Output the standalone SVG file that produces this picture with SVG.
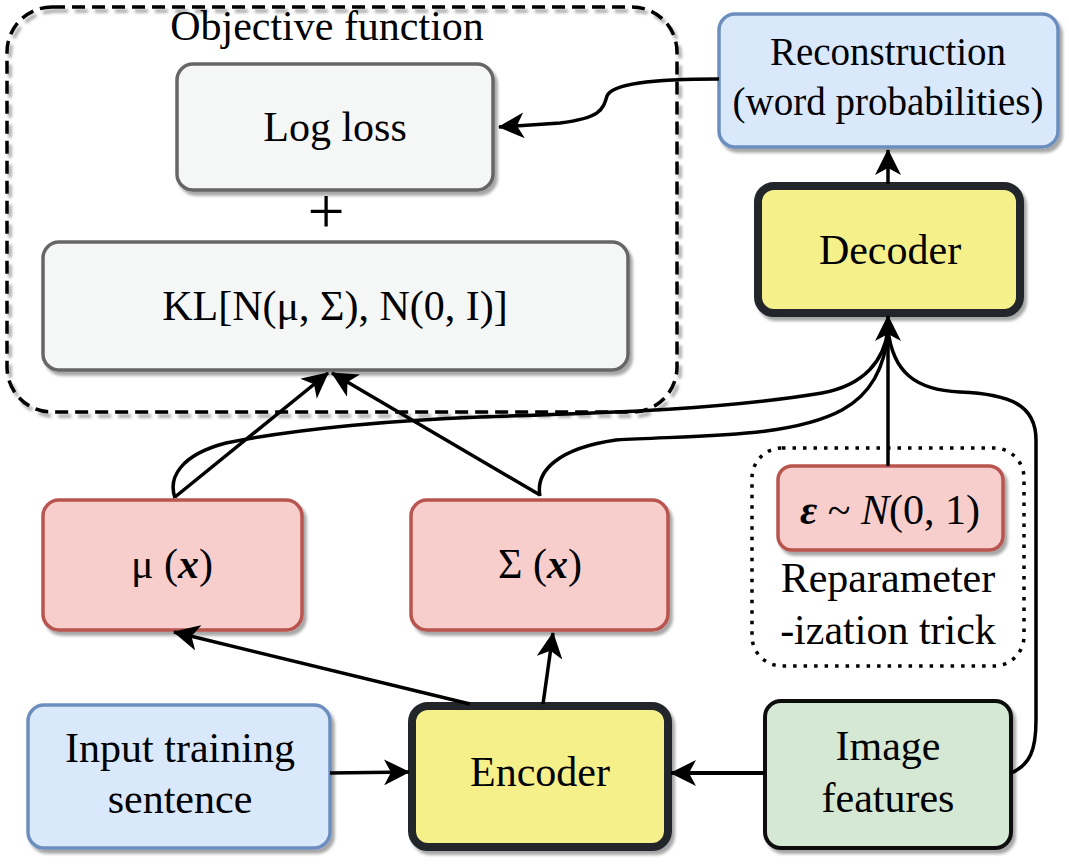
<svg xmlns="http://www.w3.org/2000/svg" width="1069" height="866" viewBox="0 0 1069 866">
  <defs>
    <filter id="shadow" x="-10%" y="-10%" width="130%" height="130%">
      <feDropShadow dx="3" dy="4" stdDeviation="1.5" flood-color="#000" flood-opacity="0.35"/>
    </filter>
    <marker id="arrow" viewBox="0 0 26 26" refX="25" refY="13" markerWidth="26" markerHeight="26" markerUnits="userSpaceOnUse" orient="auto">
      <path d="M0,0 L26,13 L0,26 L7,13 Z" fill="#000"/>
    </marker>
  </defs>
  <style>
    text { font-family: "Liberation Serif", "Times New Roman", serif; font-size: 42px; fill: #000; text-anchor: middle; }
    .node { filter: url(#shadow); }
    .grey { fill: #f5f6f6; stroke: #666; stroke-width: 3.5; }
    .blue { fill: #dae8fc; stroke: #6c8ebf; stroke-width: 3.5; }
    .red { fill: #f8cecc; stroke: #b85450; stroke-width: 3.5; }
    .yellow { fill: #f6f08b; stroke: #22262b; stroke-width: 8; }
    .green { fill: #d5e8d4; stroke: #111; stroke-width: 4; }
    .conn { fill: none; stroke: #000; stroke-width: 3.5; }
    .arr { marker-end: url(#arrow); }
  </style>

  <!-- objective function container -->
  <g id="objective">
    <rect x="7" y="7" width="670" height="405" rx="45" fill="none" stroke="#000" stroke-width="3.5" stroke-dasharray="13 7" class="node"/>
    <text x="327" y="40">Objective function</text>
  </g>

  <g id="logloss">
    <rect class="node grey" x="177" y="64" width="316" height="126" rx="16"/>
    <text x="335" y="141">Log loss</text>
  </g>

  <g id="plus">
    <text x="326" y="233" style="font-size:66px">+</text>
  </g>

  <g id="kl">
    <rect class="node grey" x="43" y="242" width="585" height="128" rx="16"/>
    <text x="335" y="320">KL[N(μ, Σ), N(0, I)]</text>
  </g>

  <g id="reconstruction">
    <rect class="node blue" x="719" y="14" width="339" height="133" rx="16"/>
    <text x="888" y="65" style="font-size:39px">Reconstruction</text>
    <text x="888" y="115" style="font-size:39px">(word probabilities)</text>
  </g>

  <g id="decoder">
    <rect class="node yellow" x="758" y="186" width="262" height="127" rx="16"/>
    <text x="890" y="264">Decoder</text>
  </g>

  <g id="mu">
    <rect class="node red" x="43" y="500" width="259" height="130" rx="16"/>
    <text x="172" y="578">μ (<tspan font-weight="bold" font-style="italic">x</tspan>)</text>
  </g>

  <g id="sigma">
    <rect class="node red" x="411" y="500" width="257" height="130" rx="16"/>
    <text x="540" y="578">Σ (<tspan font-weight="bold" font-style="italic">x</tspan>)</text>
  </g>

  <g id="reparam">
    <rect x="752" y="448" width="272" height="218" rx="30" fill="none" stroke="#000" stroke-width="3.5" stroke-dasharray="3.5 7"/>
    <text x="888" y="592">Reparameter</text>
    <text x="888" y="644">-ization trick</text>
  </g>

  <g id="epsilon">
    <rect class="node red" x="778" y="466" width="225" height="84" rx="14"/>
    <text x="890" y="524"><tspan font-weight="bold" font-style="italic">ε</tspan> ~ <tspan font-style="italic">N</tspan>(0, 1)</text>
  </g>

  <g id="input">
    <rect class="node blue" x="28" y="705" width="302" height="143" rx="16"/>
    <text x="180" y="762">Input training</text>
    <text x="180" y="813">sentence</text>
  </g>

  <g id="encoder">
    <rect class="node yellow" x="412" y="706" width="256" height="141" rx="16"/>
    <text x="540" y="786">Encoder</text>
  </g>

  <g id="image">
    <rect class="node green" x="765" y="701" width="246" height="147" rx="16"/>
    <text x="888" y="760">Image</text>
    <text x="888" y="812">features</text>
  </g>

  <!-- connectors -->
  <g id="connectors">
    <path class="conn arr" d="M719,79 C650,79 612,84 607,96 C603,110 600,118 560,123 L499,127"/>
    <path class="conn arr" d="M888,184 L888,150"/>
    <path class="conn" d="M888,466 L888,335"/>
    <path class="conn" d="M175,498 C168,478 180,455 226,443 C300,428 400,420 480,417 C600,413 720,410 822,393 C865,385 884,360 888,330"/>
    <path class="conn" d="M540,496 C535,470 560,448 616,440 C700,435 790,438 842,410 C875,392 886,360 888,330"/>
    <path class="conn" d="M1011,773 C1030,765 1036,750 1036,720 L1036,440 C1036,405 1010,394 960,392 C915,390 893,372 888,330"/>
    <path class="conn arr" d="M888,345 L888,316"/>
    <path class="conn arr" d="M175,497 L328,373"/>
    <path class="conn arr" d="M540,495 L332,373"/>
    <path class="conn arr" d="M470,704 L174,632"/>
    <path class="conn arr" d="M543,704 L553,633"/>
    <path class="conn arr" d="M330,773 L409,772"/>
    <path class="conn arr" d="M765,773 L671,773" style="stroke-width:4"/>
  </g>
</svg>
